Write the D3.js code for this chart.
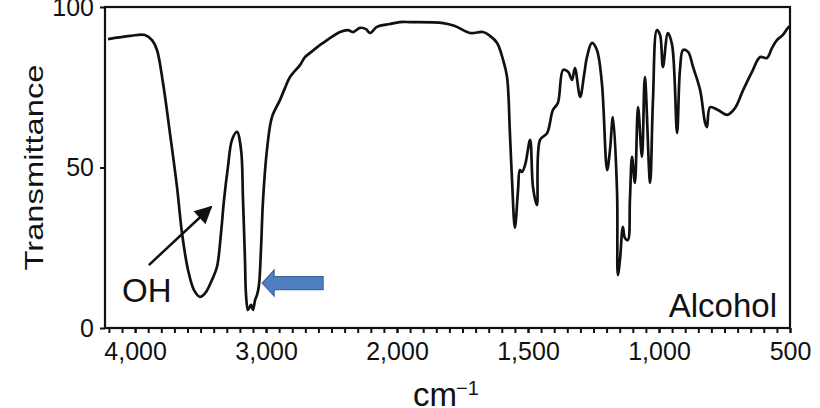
<!DOCTYPE html>
<html>
<head>
<meta charset="utf-8">
<script src="https://cdn.jsdelivr.net/npm/d3@7"></script>
<style>
  body { margin: 0; background: #fff; }
  svg { display: block; font-family: "Liberation Sans", Arial, Helvetica, sans-serif; }
</style>
</head>
<body>
<div id="chart"></div>
<script>
// IR spectrum of an alcohol (cm-1 vs % transmittance)
const wavenumbers = [
  4207, 4039, 3925, 3871, 3833, 3787, 3734, 3680, 3642, 3596, 3550, 3504, 3459, 3413,
  3375, 3344, 3321, 3291, 3260, 3222, 3191, 3176, 3161, 3153, 3138, 3115, 3100, 3084,
  3069, 3054, 3039, 3023, 2993, 2955, 2894, 2855, 2817, 2741, 2703, 2664, 2565, 2435,
  2374, 2336, 2283, 2237, 2206, 2153, 2054, 1989,
  1950, 1824, 1779, 1721, 1672, 1645, 1618, 1595, 1580, 1569, 1561, 1550, 1538, 1531,
  1523, 1511, 1492, 1481, 1466, 1454, 1427, 1405, 1386, 1366, 1347, 1332, 1321, 1301,
  1286, 1275, 1256, 1237, 1218, 1198, 1187, 1176, 1160, 1157, 1149, 1138, 1130, 1119,
  1111, 1103, 1092, 1080, 1065, 1054, 1034, 1023, 1008, 996, 985, 966, 950, 931,
  920, 908, 889, 870, 843, 824, 817, 805, 775, 740, 710, 679, 645, 614,
  588, 569, 550, 527, 508, 500
];
const transmittance = [
  90.0, 91.0, 91.3, 89.7, 86.6, 76.3, 60.7, 43.9, 29.6, 18.1, 11.8, 9.7, 11.2, 15.0,
  19.0, 29.6, 39.9, 50.2, 58.6, 61.1, 55.5, 39.9, 21.2, 10.3, 5.6, 7.2, 5.6, 8.7,
  10.3, 13.4, 24.3, 39.9, 55.5, 65.7, 71.0, 74.8, 78.2, 81.9, 84.4, 85.7, 88.8, 92.2,
  92.8, 92.2, 93.5, 93.1, 91.9, 93.8, 94.7, 95.3,
  95.3, 95.0, 94.1, 91.9, 92.2, 91.0, 88.8, 83.5, 78.2, 60.7, 46.1, 31.2, 43.0, 49.2,
  48.6, 50.8, 58.6, 43.9, 38.3, 58.6, 60.7, 67.9, 70.1, 80.4, 79.8, 77.3, 81.0, 72.0,
  78.8, 84.4, 88.8, 86.6, 76.3, 49.2, 55.5, 65.7, 42.1, 16.5, 21.2, 31.5, 28.0, 27.4,
  39.9, 53.3, 45.2, 68.8, 53.3, 78.2, 45.2, 71.0, 92.8, 91.3, 81.3, 91.9, 88.2, 60.7,
  80.4, 86.6, 86.0, 81.3, 74.1, 63.9, 62.6, 68.8, 67.9, 66.4, 68.5, 74.1, 79.8, 84.4,
  84.1, 87.2, 89.7, 91.3, 93.5, 94.1
];

const xLabelTicks = [4000, 3000, 2000, 1500, 1000, 500];
const yLabelTicks = [0, 50, 100];
const xAxisTitle = "cm";
const xAxisTitleSup = "\u22121";
const yAxisTitle = "Transmittance";
const sampleLabel = "Alcohol";
const bandLabel = "OH";

const width = 820, height = 408;
const margin = {top: 7, right: 30, bottom: 80, left: 105};

// x axis changes scale at 2000 cm-1 (half the cm-1 per pixel below it)
const x = d3.scaleLinear()
    .domain([4230, 2000, 500])
    .range([margin.left, 397, width - margin.right]);

const y = d3.scaleLinear()
    .domain([0, 100])
    .range([height - margin.bottom, margin.top]);

const svg = d3.select("#chart")
    .append("svg")
    .attr("width", width)
    .attr("height", height);

// minor ticks: every 100 above 2000, every 50 below
const minorTicks = d3.range(4200, 2000, -100).concat(d3.range(2000, 499, -50));

svg.append("g")
    .attr("transform", `translate(0, ${y(0)})`)
    .call(d3.axisBottom(x).tickValues(minorTicks).tickSize(5).tickFormat(""))
    .call(g => g.select(".domain").remove())
    .call(g => g.selectAll("line").attr("stroke", "#111").attr("stroke-width", 2));

svg.append("g")
    .attr("transform", `translate(0, ${y(0)})`)
    .call(d3.axisBottom(x).tickValues(xLabelTicks).tickSize(5).tickPadding(9)
        .tickFormat(d3.format(",")))
    .call(g => g.select(".domain").remove())
    .call(g => g.selectAll("line").attr("stroke", "#111").attr("stroke-width", 2))
    .call(g => g.selectAll("text")
        .attr("font-size", 25)
        .attr("fill", "#111")
        .attr("font-family", "Liberation Sans, Arial, sans-serif"));

svg.append("g")
    .attr("transform", `translate(${margin.left}, 0)`)
    .call(d3.axisLeft(y).tickValues(yLabelTicks).tickSize(5).tickPadding(6))
    .call(g => g.select(".domain").remove())
    .call(g => g.selectAll("line").attr("stroke", "#111").attr("stroke-width", 2))
    .call(g => g.selectAll("text")
        .attr("font-size", 25)
        .attr("fill", "#111")
        .attr("font-family", "Liberation Sans, Arial, sans-serif"));

// plot frame
svg.append("rect")
    .attr("x", x(4230))
    .attr("y", y(100))
    .attr("width", x(500) - x(4230))
    .attr("height", y(0) - y(100))
    .attr("fill", "none")
    .attr("stroke", "#111")
    .attr("stroke-width", 2.2);

const spectrum = wavenumbers.map((w, i) => ({w: w, t: transmittance[i]}));

const line = d3.line()
    .x(d => x(d.w))
    .y(d => y(d.t))
    .curve(d3.curveCatmullRom.alpha(0.5));

svg.append("path")
    .datum(spectrum)
    .attr("fill", "none")
    .attr("stroke", "#111")
    .attr("stroke-width", 2.7)
    .attr("stroke-linejoin", "round")
    .attr("d", line);

// axis titles
svg.append("text")
    .attr("transform", `translate(43, ${(y(0) + y(100)) / 2}) rotate(-90)`)
    .attr("text-anchor", "middle")
    .attr("font-size", 26)
    .attr("textLength", 206)
    .attr("lengthAdjust", "spacingAndGlyphs")
    .attr("fill", "#111")
    .text(yAxisTitle);

svg.append("text")
    .attr("x", 413)
    .attr("y", 406)
    .attr("font-size", 33)
    .attr("fill", "#111")
    .text(xAxisTitle);
svg.append("text")
    .attr("x", 456)
    .attr("y", 395)
    .attr("font-size", 20)
    .attr("fill", "#111")
    .text(xAxisTitleSup);

// labels
svg.append("text")
    .attr("x", x(4100))
    .attr("y", 302)
    .attr("font-size", 33)
    .attr("fill", "#111")
    .text(bandLabel);

svg.append("text")
    .attr("x", x(500) - 13)
    .attr("y", 317)
    .attr("text-anchor", "end")
    .attr("font-size", 33)
    .attr("fill", "#111")
    .text(sampleLabel);

// black arrow toward the OH band
svg.append("defs").append("marker")
    .attr("id", "head")
    .attr("viewBox", "0 0 10 10")
    .attr("refX", 9).attr("refY", 5)
    .attr("markerWidth", 8).attr("markerHeight", 7)
    .attr("markerUnits", "strokeWidth")
    .attr("orient", "auto")
    .append("path")
    .attr("d", "M0,0 L10,5 L0,10 Z")
    .attr("fill", "#111");

svg.append("line")
    .attr("x1", x(3895)).attr("y1", y(19.6))
    .attr("x2", x(3420)).attr("y2", y(37.7))
    .attr("stroke", "#111")
    .attr("stroke-width", 2.5)
    .attr("marker-end", "url(#head)");

// blue block arrow pointing at the C-H band
const tipX = x(3030), tipY = y(14);
const blueArrow = [
  [tipX, tipY],
  [tipX + 12, tipY - 13],
  [tipX + 12, tipY - 6.5],
  [tipX + 61, tipY - 6.5],
  [tipX + 61, tipY + 6.5],
  [tipX + 12, tipY + 6.5],
  [tipX + 12, tipY + 13]
];
svg.append("polygon")
    .attr("points", blueArrow.map(p => p.join(",")).join(" "))
    .attr("fill", "#4f7fc1")
    .attr("stroke", "#3d679f")
    .attr("stroke-width", 1.2);
</script>
</body>
</html>
